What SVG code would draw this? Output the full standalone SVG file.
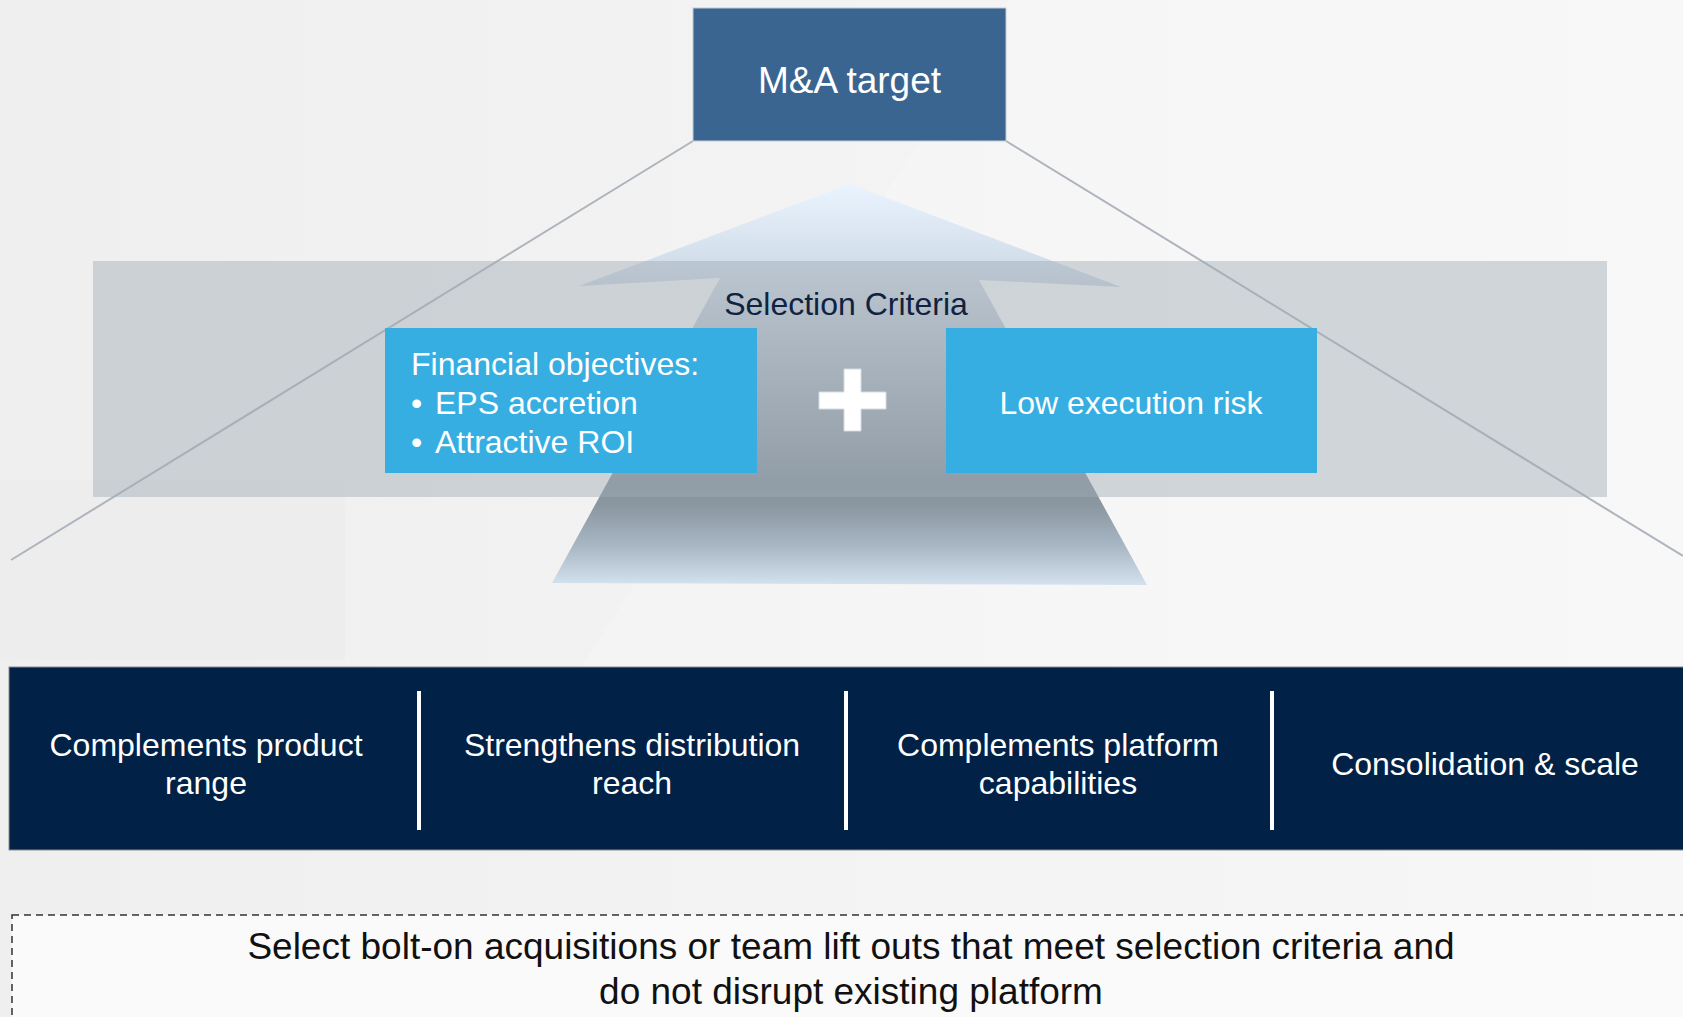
<svg xmlns="http://www.w3.org/2000/svg" width="1683" height="1017" viewBox="0 0 1683 1017">
  <defs>
    <linearGradient id="bg" x1="0" y1="0" x2="1" y2="0">
      <stop offset="0" stop-color="#EFEFEF"/>
      <stop offset="1" stop-color="#F7F7F7"/>
    </linearGradient>
    <linearGradient id="arrowGrad" gradientUnits="userSpaceOnUse" x1="0" y1="184" x2="0" y2="585">
      <stop offset="0" stop-color="#EAF4FF"/>
      <stop offset="0.19" stop-color="#D2DEEA"/>
      <stop offset="0.29" stop-color="#C6D0DA"/>
      <stop offset="0.74" stop-color="#86929C"/>
      <stop offset="0.8" stop-color="#8A96A0"/>
      <stop offset="0.9" stop-color="#A8B6C4"/>
      <stop offset="1" stop-color="#D4E2F0"/>
    </linearGradient>
    <style>
      .t { font-family: "Liberation Sans", Arial, sans-serif; }
      .w { fill: #FFFFFF; }
      .conn { stroke: #ADB4BC; stroke-width: 2; fill: none; }
      .crit { fill: #36AEE2; }
      .div { stroke: #FFFFFF; stroke-width: 4; }
    </style>
  </defs>

  <!-- background -->
  <rect x="0" y="0" width="1683" height="1017" fill="url(#bg)"/>
  <polygon points="1010,0 1683,0 1683,700 560,700" fill="#FFFFFF" opacity="0.2"/>
  <polygon points="0,480 345,480 345,660 0,660" fill="#E9E9E9" opacity="0.3"/>

  <!-- connectors -->
  <g id="connectors">
    <line class="conn" x1="693" y1="141" x2="11" y2="560"/>
    <line class="conn" x1="1006" y1="141" x2="1683" y2="556"/>
  </g>

  <!-- upward arrow -->
  <g id="arrow">
    <polygon points="850,184 1121,287 979,280 1147,585 552,583 720,278 579,286" fill="url(#arrowGrad)"/>
  </g>

  <!-- selection criteria band -->
  <g id="selection-band">
    <rect x="93" y="261" width="1514" height="236" fill="#A0AAB6" opacity="0.45"/>
    <text class="t" x="846" y="315" font-size="32" fill="#0F2340" text-anchor="middle">Selection Criteria</text>
  </g>

  <!-- Financial objectives -->
  <g id="financial-objectives">
    <rect class="crit" x="385" y="328" width="372" height="145"/>
    <text class="t w" x="411" y="375" font-size="32">Financial objectives:</text>
    <text class="t w" x="411" y="414" font-size="32">•</text>
    <text class="t w" x="435" y="414" font-size="32">EPS accretion</text>
    <text class="t w" x="411" y="453" font-size="32">•</text>
    <text class="t w" x="435" y="453" font-size="32">Attractive ROI</text>
  </g>

  <!-- plus -->
  <g id="plus">
    <path d="M844,369 H861 V392 H886 V409 H861 V431 H844 V409 H819 V392 H844 Z" fill="#FFFFFF" stroke="#D4DBE2" stroke-width="1"/>
  </g>

  <!-- Low execution risk -->
  <g id="low-execution-risk">
    <rect class="crit" x="946" y="328" width="371" height="145"/>
    <text class="t w" x="1131" y="414" font-size="32" text-anchor="middle">Low execution risk</text>
  </g>

  <!-- M&A target -->
  <g id="ma-target">
    <rect x="693" y="8" width="313" height="133" fill="#3A6591" stroke="#C4CCD6" stroke-width="1"/>
    <text class="t w" x="849.5" y="93" font-size="37" text-anchor="middle">M&amp;A target</text>
  </g>

  <!-- attributes band -->
  <g id="attributes">
    <rect x="9" y="667" width="1700" height="183" fill="#012147" stroke="#8C8C8C" stroke-width="1"/>
    <line class="div" x1="419" y1="691" x2="419" y2="830"/>
    <line class="div" x1="846" y1="691" x2="846" y2="830"/>
    <line class="div" x1="1272" y1="691" x2="1272" y2="830"/>
  </g>
  <g id="attr-product-range">
    <text class="t w" x="206" y="756" font-size="32" text-anchor="middle">Complements product</text>
    <text class="t w" x="206" y="794" font-size="32" text-anchor="middle">range</text>
  </g>
  <g id="attr-distribution">
    <text class="t w" x="632" y="756" font-size="32" text-anchor="middle">Strengthens distribution</text>
    <text class="t w" x="632" y="794" font-size="32" text-anchor="middle">reach</text>
  </g>
  <g id="attr-platform">
    <text class="t w" x="1058" y="756" font-size="32" text-anchor="middle">Complements platform</text>
    <text class="t w" x="1058" y="794" font-size="32" text-anchor="middle">capabilities</text>
  </g>
  <g id="attr-consolidation">
    <text class="t w" x="1485" y="775" font-size="32" text-anchor="middle">Consolidation &amp; scale</text>
  </g>

  <!-- summary -->
  <g id="summary">
    <rect x="12" y="915" width="1700" height="150" fill="#FAFAFA" stroke="#333333" stroke-width="1.5" stroke-dasharray="7 5"/>
    <text class="t" x="851" y="959" font-size="37" fill="#111111" text-anchor="middle">Select bolt-on acquisitions or team lift outs that meet selection criteria and</text>
    <text class="t" x="851" y="1004" font-size="37" fill="#111111" text-anchor="middle">do not disrupt existing platform</text>
  </g>
</svg>
